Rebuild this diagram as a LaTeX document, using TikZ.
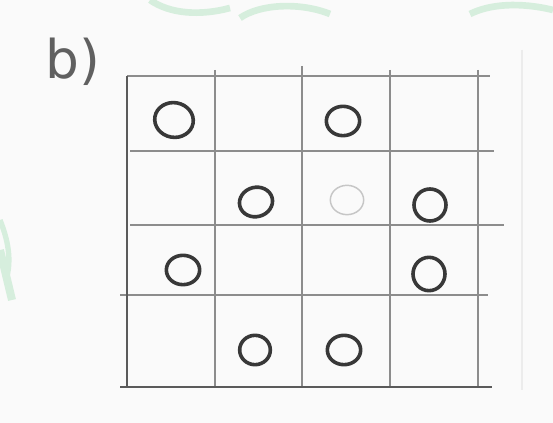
\documentclass[tikz,border=0pt]{standalone}
\usepackage{fontspec}
\setsansfont{DejaVu Sans}
\usetikzlibrary{shapes.geometric}
\definecolor{paper}{HTML}{FAFAFA}
\definecolor{gridc}{HTML}{8C8C8C}
\definecolor{gridd}{HTML}{5A5A5A}
\definecolor{ink}{HTML}{383838}
\definecolor{wm}{HTML}{D6EEDD}
\tikzset{
  gridline/.style={draw=gridc, line width=1.3pt},
  frameline/.style={draw=gridd, line width=1.9pt},
  ring/.style={ellipse, draw=ink, line width=2.7pt, minimum width=25pt, minimum height=22pt, inner sep=0pt},
  faintring/.style={ring, draw=gray!45, line width=1.1pt},
  lbl/.style={font=\sffamily\fontsize{40}{40}\selectfont, text=gray!75!black}
}
\begin{document}
\begin{tikzpicture}[x=0.75pt,y=-0.75pt]
\useasboundingbox (0,0) rectangle (553,423);
\fill[paper] (0,0) rectangle (553,423);
% faint watermark traces
\draw[wm, line width=5pt] (150,0) .. controls (170,14) and (200,16) .. (230,8);
\draw[wm, line width=5pt] (240,18) .. controls (260,4) and (300,2) .. (330,14);
\draw[wm, line width=5pt] (470,14) .. controls (490,4) and (520,2) .. (553,10);
\draw[wm, line width=4pt] (0,220) .. controls (8,240) and (12,260) .. (6,280);
\draw[wm, line width=6pt] (0,250) -- (12,300);
% faint right line
\draw[gray!15, line width=1pt] (522,50) -- (522,390);
% grid
\draw[gridline] (127,76) -- (490,76);
\draw[gridline] (130,151) -- (494,151);
\draw[gridline] (130,225) -- (504,225);
\draw[gridline] (120,295) -- (488,295);
\draw[gridline] (215,70) -- (215,387);
\draw[gridline] (302,66) -- (302,387);
\draw[gridline] (390,70) -- (390,387);
\draw[gridline] (478,70) -- (478,387);
\draw[frameline] (127,76) -- (127,387);
\draw[frameline] (120,387) -- (492,387);
% label
\node[lbl] (b) at (73,62) {b)};
% rings
\node[ring, minimum width=29pt, minimum height=26pt, rotate=-10] (c11) at (174,120) {};
\node[ring] (c13) at (343,121) {};
\node[ring, rotate=15] (c22) at (256,202) {};
\node[faintring] (c23) at (347,200) {};
\node[ring, minimum width=24pt, minimum height=24pt] (c24) at (430,205) {};
\node[ring] (c31) at (183,270) {};
\node[ring, minimum width=24pt, minimum height=25pt] (c34) at (429,274) {};
\node[ring, minimum width=23pt] (c42) at (255,350) {};
\node[ring] (c43) at (344,350) {};
\end{tikzpicture}
\end{document}
